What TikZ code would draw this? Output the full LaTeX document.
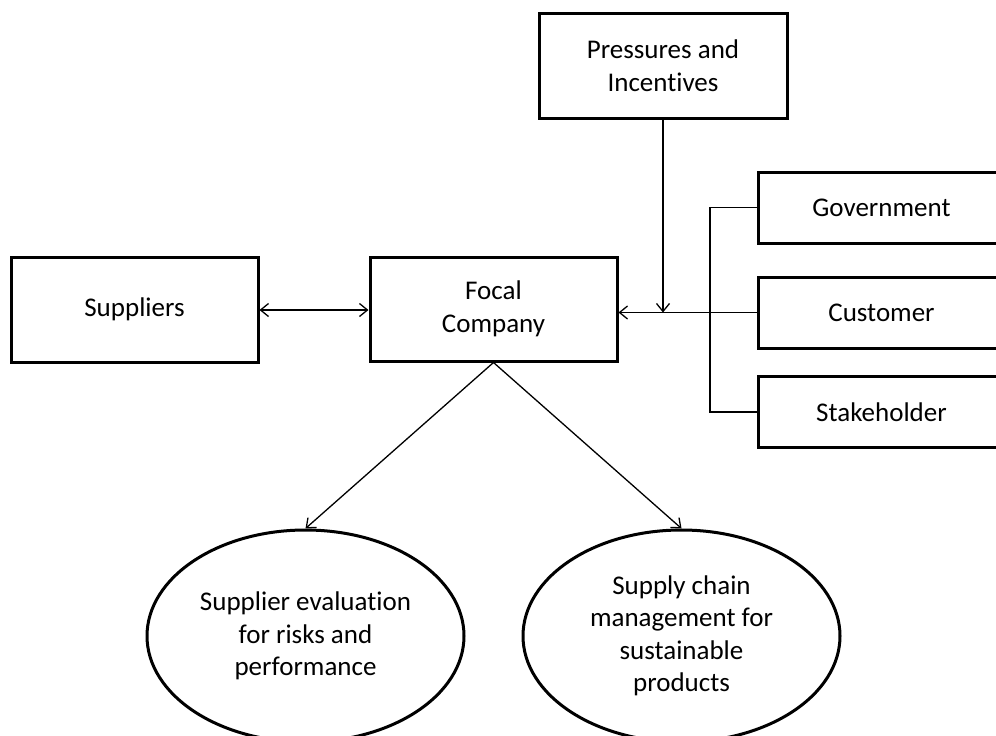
\documentclass[tikz,border=0pt]{standalone}
\usepackage{fontspec}
\setmainfont[Ligatures=NoCommon]{Carlito}
\usetikzlibrary{arrows.meta,shapes.geometric}

\tikzset{
  box/.style={draw=black, line width=3pt, inner sep=0pt, align=center,
    font=\fontsize{27}{32.5}\selectfont},
  oval/.style={ellipse, draw=black, line width=3pt, inner sep=0pt, align=center,
    minimum width=317pt, minimum height=212pt,
    font=\fontsize{27}{32.5}\selectfont},
  link/.style={line width=1.3pt, draw=black},
  tip/.style={-{Straight Barb[length=8pt,width=13pt,line width=1.3pt]}},
  twotip/.style={{Straight Barb[length=8pt,width=13pt,line width=1.3pt]}-{Straight Barb[length=8pt,width=13pt,line width=1.3pt]}}
}

\begin{document}
\begin{tikzpicture}[x=1pt, y=-1pt]
  \useasboundingbox (0,0) rectangle (996,736);
  \clip (0,0) rectangle (996,736);

  % boxes
  \node[box, minimum width=248pt, minimum height=105pt] (press) at (663,65.5) {Pressures and\\Incentives};
  \node[box, minimum width=247pt, minimum height=105pt] (supp) at (134.5,309.5) {Suppliers};
  \node[box, minimum width=247pt, minimum height=104pt] (focal) at (493.5,309) {Focal\\Company};
  \node[box, minimum width=247pt, minimum height=71pt] (gov) at (881.5,207.5) {Government};
  \node[box, minimum width=247pt, minimum height=71pt] (cust) at (881.5,312.5) {Customer};
  \node[box, minimum width=247pt, minimum height=71pt] (stake) at (881.5,412) {Stakeholder};

  % outcomes
  \node[oval] (eval) at (305.5,636) {Supplier evaluation\\for risks and\\performance};
  \node[oval] (scm) at (681.5,636) {Supply chain\\management for\\sustainable\\products};

  % stakeholder bracket feeding the focal company
  \coordinate (brtop) at (710,207.5);
  \coordinate (brbot) at (710,412);
  \coordinate (join) at (663,312.5);
  \draw[link] (gov.west) -- (brtop) -- (brbot) -- (stake.west);
  \draw[link, tip] (cust.west) -- (focal.east |- cust.west);
  \draw[link, tip] (press.south) -- (join);

  % supplier relation
  \draw[link, twotip] (supp.east |- 0,310) -- (focal.west |- 0,310);

  % outcomes of the focal company
  \draw[link, tip] (focal.south) -- (eval.north);
  \draw[link, tip] (focal.south) -- (scm.north);
\end{tikzpicture}
\end{document}
